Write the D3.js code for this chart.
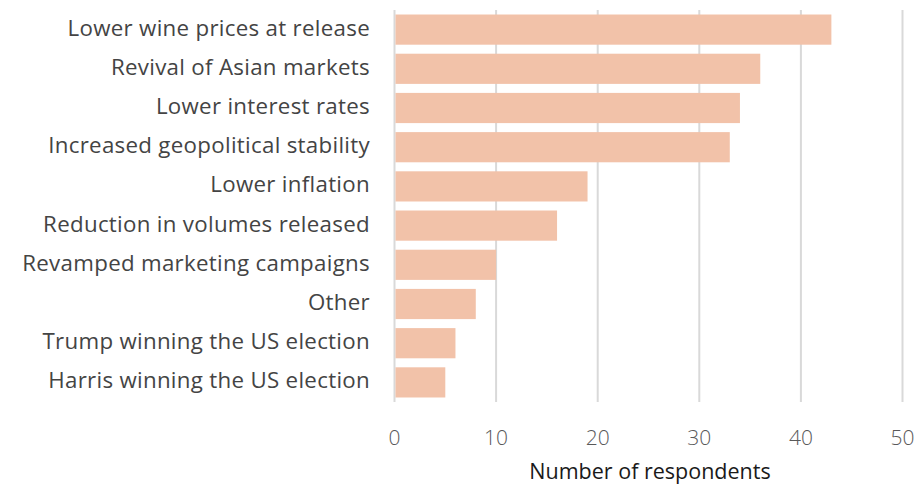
<!DOCTYPE html>
<html><head><meta charset="utf-8">
<script src="https://d3js.org/d3.v7.min.js"></script>
<style>body{margin:0;background:#fff}svg{display:block}</style>
</head><body>
<svg id="c" width="919" height="486"></svg>
<script>
const categories = ["Lower wine prices at release","Revival of Asian markets","Lower interest rates","Increased geopolitical stability","Lower inflation","Reduction in volumes released","Revamped marketing campaigns","Other","Trump winning the US election","Harris winning the US election"];
const values = [43,36,34,33,19,16,10,8,6,5];
const xTicks = [0,10,20,30,40,50];
const xTitle = "Number of respondents";

const svg = d3.select("#c");
const font = "'Open Sans', sans-serif";
const x = d3.scaleLinear().domain([0,50]).range([394.5,902.5]);
const y = d3.scaleBand().domain(categories).range([10,402]).paddingInner(0.23).paddingOuter(0.115);

svg.append("g").selectAll("line").data(xTicks).join("line")
  .attr("x1",d=>x(d)).attr("x2",d=>x(d)).attr("y1",10).attr("y2",402)
  .attr("stroke","#d9d9d9").attr("stroke-width",2);

svg.append("g").selectAll("rect").data(values).join("rect")
  .attr("x",x(0)+1).attr("y",(d,i)=>y(categories[i]))
  .attr("width",d=>x(d)-x(0)-1).attr("height",y.bandwidth())
  .attr("fill","#f2c2a9");

svg.append("g").selectAll("text").data(categories).join("text")
  .attr("x",370).attr("y",d=>y(d)+y.bandwidth()/2-2).attr("dy","0.36em")
  .attr("text-anchor","end").attr("font-family",font).attr("font-size",22.3)
  .attr("letter-spacing",0.3)
  .attr("fill","#444444").text(d=>d);

svg.append("g").selectAll("text").data(xTicks).join("text")
  .attr("x",d=>x(d)).attr("y",437).attr("dy","0.36em")
  .attr("text-anchor","middle").attr("font-family",font).attr("font-size",21).attr("font-weight",300)
  .attr("fill","#595959").text(d=>d);

svg.append("text").attr("x",650).attr("y",471.5).attr("dy","0.36em")
  .attr("text-anchor","middle").attr("font-family",font).attr("font-size",21.5)
  .attr("fill","#1a1a1a").text(xTitle);
</script>
</body></html>
